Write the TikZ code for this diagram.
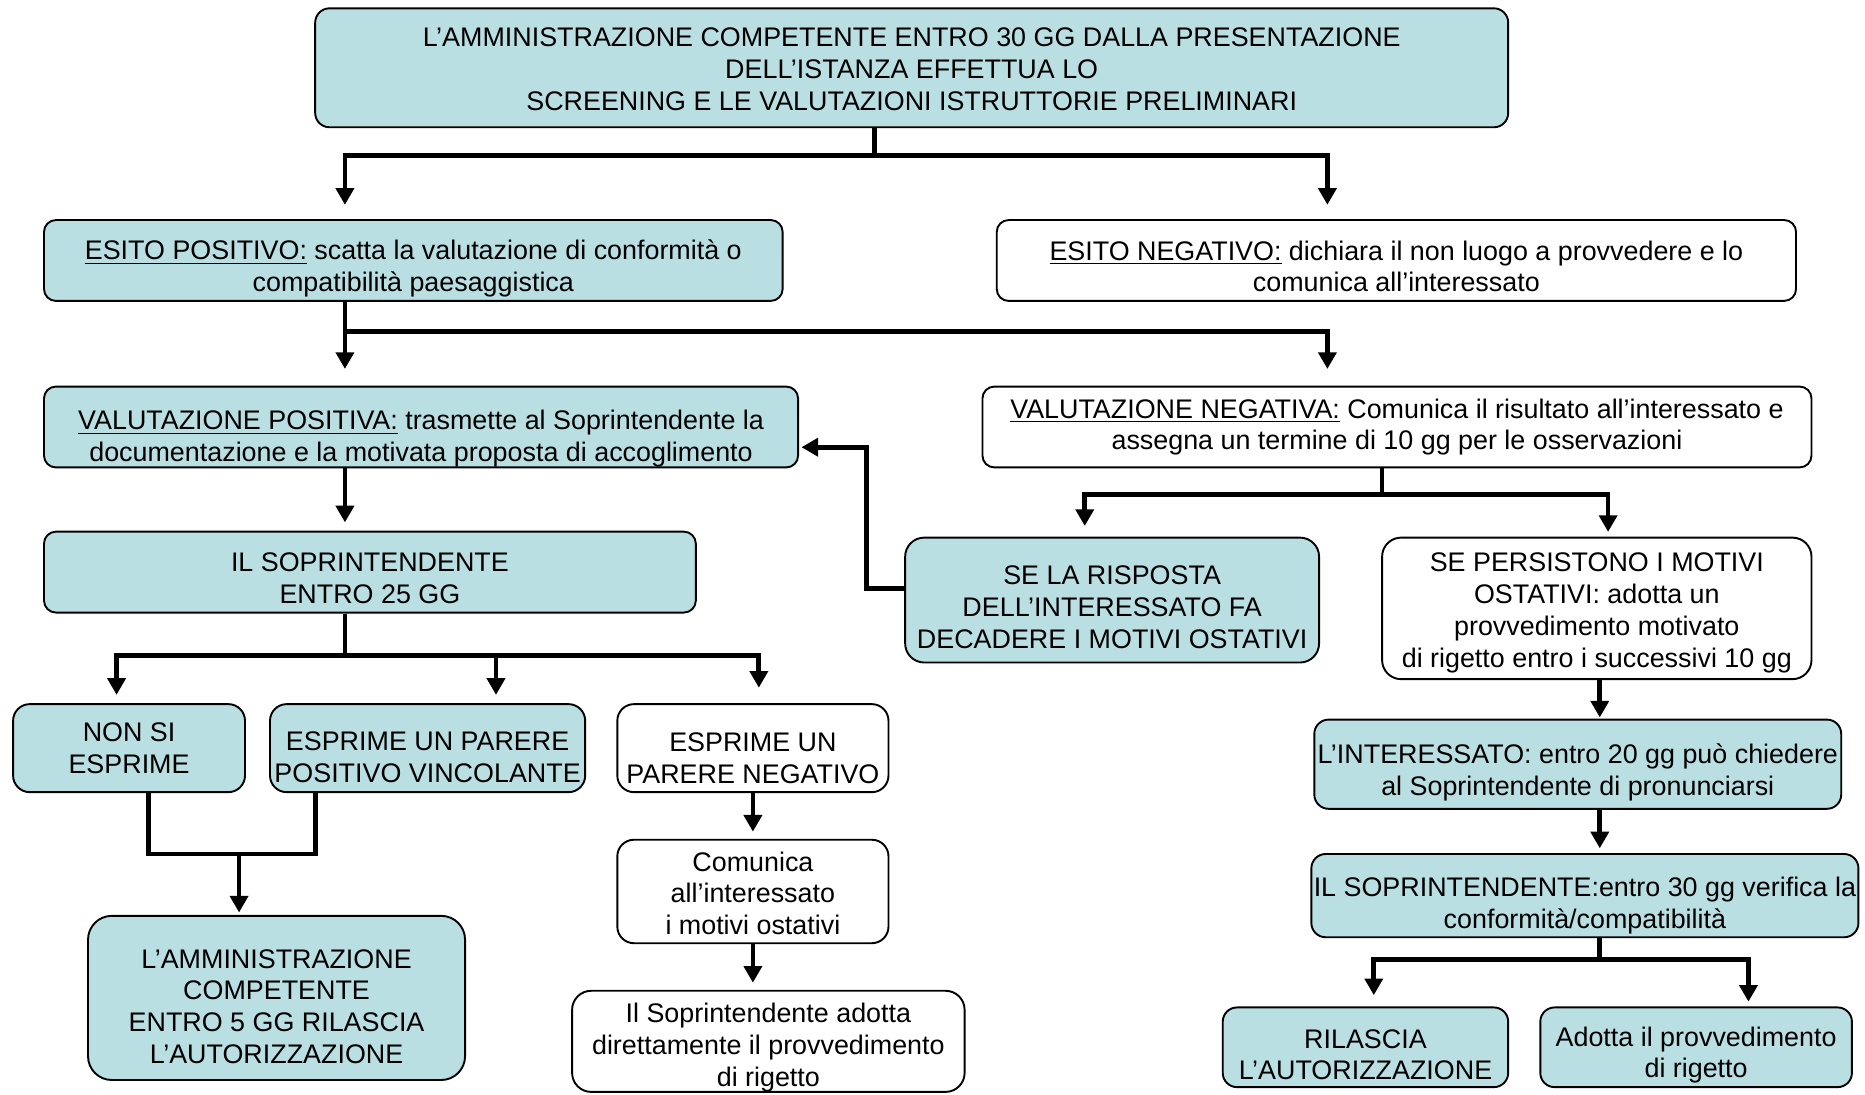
\documentclass[tikz,border=0pt]{standalone}
\usepackage{fontspec}
\setmainfont{Liberation Sans}
\usepackage{tikz}
\usetikzlibrary{arrows.meta}
\definecolor{boxteal}{RGB}{185,223,227}
% pushes the lines of a box down by #1
\newcommand{\lowtext}[1]{\rule{0pt}{\dimexpr 8.2pt+#1*2\relax}}

\begin{document}
\begin{tikzpicture}[x=0.5pt,y=-0.5pt]
		\tikzstyle{base-box}=[draw=black,line width=0.8pt,rounded corners=5pt,align=center,inner sep=1pt,font=\fontsize{11.3}{13.4}\selectfont]
		\tikzstyle{teal-box}=[base-box,fill=boxteal]
		\tikzstyle{white-box}=[base-box,fill=white]
		\tikzstyle{link}=[line width=2pt]
		\tikzstyle{flow}=[link,-{Triangle[width=7.5pt,length=7pt]},shorten >=3pt]
		\useasboundingbox (0,0) rectangle (1568,920);
		% screening
		\node [teal-box,minimum width=501.5pt,minimum height=50pt,rounded corners=6pt] at (766.5,57) (top) {\lowtext{0.5pt}L’AMMINISTRAZIONE COMPETENTE ENTRO 30 GG DALLA PRESENTAZIONE\\ DELL’ISTANZA EFFETTUA LO\\ SCREENING E LE VALUTAZIONI ISTRUTTORIE PRELIMINARI};
		\node [teal-box,minimum width=310.5pt,minimum height=34pt] at (347.5,219) (esitopos) {\lowtext{3.5pt}\underline{ESITO POSITIVO:} scatta la valutazione di conformità o\\ compatibilità paesaggistica};
		\node [white-box,minimum width=336pt,minimum height=34pt] at (1174,219) (esitoneg) {\lowtext{2.5pt}\underline{ESITO NEGATIVO:} dichiara il non luogo a provvedere e lo\\ comunica all’interessato};
		% valutazione
		\node [teal-box,minimum width=317pt,minimum height=34pt,inner sep=0pt] at (354,359) (valpos) {\lowtext{5pt}\underline{VALUTAZIONE POSITIVA:} trasmette al Soprintendente la\\ documentazione e la motivata proposta di accoglimento};
		\node [white-box,minimum width=348.5pt,minimum height=34pt] at (1174.5,359) (valneg) {\underline{VALUTAZIONE NEGATIVA:} Comunica il risultato all’interessato e\\ assegna un termine di 10 gg per le osservazioni};
		% left branch
		\node [teal-box,minimum width=274pt,minimum height=34pt] at (311,481) (sopr) {\lowtext{2.5pt}IL SOPRINTENDENTE\\ ENTRO 25 GG};
		\node [teal-box,minimum width=97.5pt,minimum height=37pt,rounded corners=7pt] at (108.5,629) (nonsi) {NON SI\\ ESPRIME};
		\node [teal-box,minimum width=132.5pt,minimum height=37pt,rounded corners=7pt] at (359.5,629) (positivo) {\lowtext{3.5pt}ESPRIME UN PARERE\\ POSITIVO VINCOLANTE};
		\node [white-box,minimum width=114pt,minimum height=37pt,rounded corners=7pt] at (633,629) (negativo) {\lowtext{4pt}ESPRIME UN\\ PARERE NEGATIVO};
		\node [teal-box,minimum width=158.5pt,minimum height=69pt,rounded corners=10pt] at (232.5,839) (ammin) {\lowtext{3.5pt}L’AMMINISTRAZIONE\\ COMPETENTE\\ ENTRO 5 GG RILASCIA\\ L’AUTORIZZAZIONE};
		\node [white-box,minimum width=114pt,minimum height=43.5pt,rounded corners=7pt] at (633,749.5) (comunica) {\lowtext{0.75pt}Comunica\\ all’interessato\\ i motivi ostativi};
		\node [white-box,minimum width=165pt,minimum height=42.5pt,rounded corners=8pt,inner sep=0pt] at (646,875.5) (sopradotta) {\lowtext{2.5pt}Il Soprintendente adotta\\ direttamente il provvedimento\\ di rigetto};
		% right branch
		\node [teal-box,minimum width=174pt,minimum height=52.5pt,rounded corners=8pt] at (935,504.5) (risposta) {\lowtext{2.75pt}SE LA RISPOSTA\\ DELL’INTERESSATO FA\\ DECADERE I MOTIVI OSTATIVI};
		\node [white-box,minimum width=180.5pt,minimum height=59.5pt,rounded corners=8pt] at (1342.5,511.5) (persist) {\lowtext{1.75pt}SE PERSISTONO I MOTIVI\\ OSTATIVI: adotta un\\ provvedimento motivato\\ di rigetto entro i successivi 10 gg};
		\node [teal-box,minimum width=221.5pt,minimum height=37.5pt,rounded corners=6pt] at (1326.5,642.5) (interes) {\lowtext{3.5pt}L’INTERESSATO: entro 20 gg può chiedere\\ al Soprintendente di pronunciarsi};
		\node [teal-box,minimum width=227.5pt,minimum height=35pt,rounded corners=6pt] at (1332.5,753) (sopr30) {\lowtext{4pt}IL SOPRINTENDENTE:entro 30 gg verifica la\\ conformità/compatibilità};
		\node [teal-box,minimum width=120pt,minimum height=33.5pt,rounded corners=6pt] at (1148,880.5) (rilascia) {\lowtext{3pt}RILASCIA\\ L’AUTORIZZAZIONE};
		\node [teal-box,minimum width=131pt,minimum height=33.5pt,rounded corners=6pt] at (1426,880.5) (adotta) {\lowtext{3.25pt}Adotta il provvedimento\\ di rigetto};
		% arrows
		\draw [flow,shorten >=6pt] ([xshift=-15.75pt]top.south) -- ++(0,23) -| ([xshift=-28.75pt]esitopos.north);
		\draw [flow,shorten >=6pt] ([xshift=-15.75pt]top.south) -- ++(0,23) -| ([xshift=-29pt]esitoneg.north);
		\draw [flow,shorten >=7pt] ([xshift=-28.75pt]esitopos.south) -- ([xshift=-32pt]valpos.north);
		\draw [flow,shorten >=7pt] ([xshift=-28.75pt]esitopos.south) -- ++(0,25) -| ([xshift=-29.25pt]valneg.north);
		\draw [flow,shorten >=3.5pt] ([xshift=-32pt]valpos.south) -- ([xshift=-10.5pt]sopr.north);
		\draw [flow,shorten >=4.5pt] ([xshift=-6.25pt]valneg.south) -- ++(0,22) -| ([xshift=-11.5pt]risposta.north);
		\draw [flow,shorten >=2pt] ([xshift=-6.25pt]valneg.south) -- ++(0,22) -| ([xshift=4.75pt]persist.north);
		\draw [flow,shorten >=1pt] ([yshift=4.75pt]risposta.west) -- ++(-32,0) |- ([yshift=-8.5pt]valpos.east);
		\draw [flow,shorten >=3.5pt] ([xshift=-10.5pt]sopr.south) -- ++(0,35) -| ([xshift=-5.25pt]nonsi.north);
		\draw [flow,shorten >=3.5pt] ([xshift=-10.5pt]sopr.south) -- ++(0,35) -| ([xshift=28.75pt]positivo.north);
		\draw [flow,shorten >=6.5pt] ([xshift=-10.5pt]sopr.south) -- ++(0,35) -| ([xshift=2.5pt]negativo.north);
		\coordinate (join) at (201,718);
		\draw [link] ([xshift=8.25pt]nonsi.south) |- (join);
		\draw [link] ([xshift=-47.25pt]positivo.south) |- (join);
		\draw [flow,shorten >=1pt] (join) -- ([xshift=-15.75pt]ammin.north);
		\draw [flow] (negativo.south) -- (comunica.north);
		\draw [flow] (comunica.south) -- ([xshift=-6.5pt]sopradotta.north);
		\draw [flow,shorten >=0.5pt] ([xshift=1.25pt]persist.south) -- ([xshift=9.25pt]interes.north);
		\draw [flow,shorten >=2pt] ([xshift=9.25pt]interes.south) -- ([xshift=6.25pt]sopr30.north);
		\draw [flow,shorten >=4.75pt] ([xshift=6.25pt]sopr30.south) -- ++(0,18) -| ([xshift=3.5pt]rilascia.north);
		\draw [flow,shorten >=2pt] ([xshift=6.25pt]sopr30.south) -- ++(0,18) -| ([xshift=22pt]adotta.north);
	\end{tikzpicture}
\end{document}
